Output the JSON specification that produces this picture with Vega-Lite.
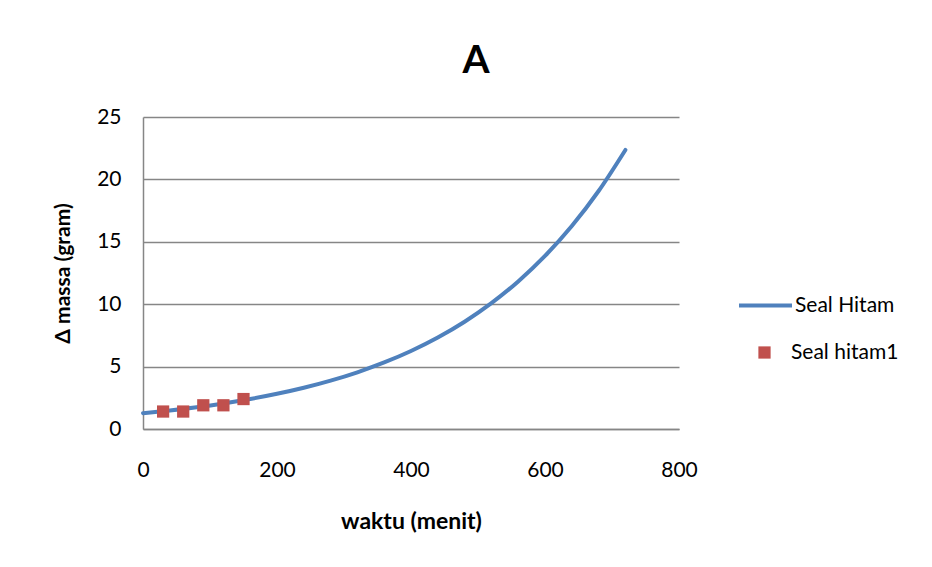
{
  "$schema": "https://vega.github.io/schema/vega-lite/v6.json",
  "autosize": "none",
  "width": 536,
  "height": 312,
  "padding": {"left": 143, "top": 117, "right": 253, "bottom": 138},
  "background": "white",
  "config": {
    "view": {"stroke": null},
    "font": "Lato",
    "axis": {
      "labelFont": "Lato",
      "titleFont": "Lato",
      "labelColor": "#000000",
      "titleColor": "#000000",
      "labelFontSize": 21,
      "titleFontSize": 20,
      "titleFontWeight": "bold",
      "domainColor": "#868686",
      "domainWidth": 1.5,
      "ticks": false,
      "labelFlush": false
    },
    "legend": {
      "labelFont": "Lato",
      "labelFontSize": 21,
      "labelColor": "#000000",
      "padding": 0
    }
  },
  "title": {
    "text": "A",
    "fontSize": 39,
    "fontWeight": "bold",
    "font": "Lato",
    "color": "#000000",
    "anchor": "middle",
    "frame": "group",
    "dx": 65,
    "offset": 44,
    "dy": 19
  },
  "datasets": {
    "curve": [
      {"waktu": 0, "massa": 1.27, "series": "Seal Hitam"},
      {"waktu": 40, "massa": 1.489, "series": "Seal Hitam"},
      {"waktu": 80, "massa": 1.747, "series": "Seal Hitam"},
      {"waktu": 120, "massa": 2.049, "series": "Seal Hitam"},
      {"waktu": 160, "massa": 2.402, "series": "Seal Hitam"},
      {"waktu": 200, "massa": 2.818, "series": "Seal Hitam"},
      {"waktu": 240, "massa": 3.304, "series": "Seal Hitam"},
      {"waktu": 280, "massa": 3.875, "series": "Seal Hitam"},
      {"waktu": 320, "massa": 4.545, "series": "Seal Hitam"},
      {"waktu": 360, "massa": 5.33, "series": "Seal Hitam"},
      {"waktu": 400, "massa": 6.25, "series": "Seal Hitam"},
      {"waktu": 440, "massa": 7.33, "series": "Seal Hitam"},
      {"waktu": 480, "massa": 8.597, "series": "Seal Hitam"},
      {"waktu": 520, "massa": 10.082, "series": "Seal Hitam"},
      {"waktu": 560, "massa": 11.823, "series": "Seal Hitam"},
      {"waktu": 600, "massa": 13.866, "series": "Seal Hitam"},
      {"waktu": 640, "massa": 16.262, "series": "Seal Hitam"},
      {"waktu": 680, "massa": 19.071, "series": "Seal Hitam"},
      {"waktu": 720, "massa": 22.36, "series": "Seal Hitam"}
    ],
    "obs": [
      {"waktu": 30, "massa": 1.4, "series": "Seal hitam1"},
      {"waktu": 60, "massa": 1.4, "series": "Seal hitam1"},
      {"waktu": 90, "massa": 1.9, "series": "Seal hitam1"},
      {"waktu": 120, "massa": 1.9, "series": "Seal hitam1"},
      {"waktu": 150, "massa": 2.4, "series": "Seal hitam1"}
    ]
  },
  "layer": [
    {
      "data": {"name": "curve"},
      "mark": {"type": "line", "strokeWidth": 4, "interpolate": "monotone", "strokeCap": "round"},
      "encoding": {
        "x": {
          "field": "waktu", "type": "quantitative",
          "scale": {"domain": [0, 800], "nice": false},
          "axis": {
            "values": [0, 200, 400, 600, 800],
            "grid": false,
            "title": "waktu (menit)",
            "titleFontSize": 23,
            "labelPadding": 30,
            "titlePadding": 30
          }
        },
        "y": {
          "field": "massa", "type": "quantitative",
          "scale": {"domain": [0, 25], "nice": false},
          "axis": {
            "values": [0, 5, 10, 15, 20, 25],
            "grid": true,
            "gridColor": "#868686",
            "gridWidth": 1.3,
            "title": "Δ massa (gram)",
            "titleFontSize": 21,
            "labelPadding": 22,
            "titlePadding": 23
          }
        },
        "color": {
          "field": "series", "type": "nominal",
          "scale": {"domain": ["Seal Hitam"], "range": ["#4F81BD"]},
          "legend": {
            "title": null,
            "orient": "none",
            "legendX": 594,
            "legendY": 160,
            "symbolType": "stroke",
            "symbolSize": 2809,
            "symbolStrokeWidth": 4,
            "labelOffset": 1
          }
        }
      }
    },
    {
      "data": {"name": "obs"},
      "mark": {"type": "square", "size": 150, "opacity": 1, "filled": true},
      "encoding": {
        "x": {"field": "waktu", "type": "quantitative"},
        "y": {"field": "massa", "type": "quantitative"},
        "color": {
          "field": "series", "type": "nominal",
          "scale": {"domain": ["Seal hitam1"], "range": ["#C0504D"]},
          "legend": {
            "title": null,
            "orient": "none",
            "legendX": 611,
            "legendY": 225,
            "symbolType": "square",
            "symbolSize": 150,
            "symbolOpacity": 1,
            "labelOffset": 16
          }
        }
      }
    }
  ],
  "resolve": {"scale": {"color": "independent"}}
}
